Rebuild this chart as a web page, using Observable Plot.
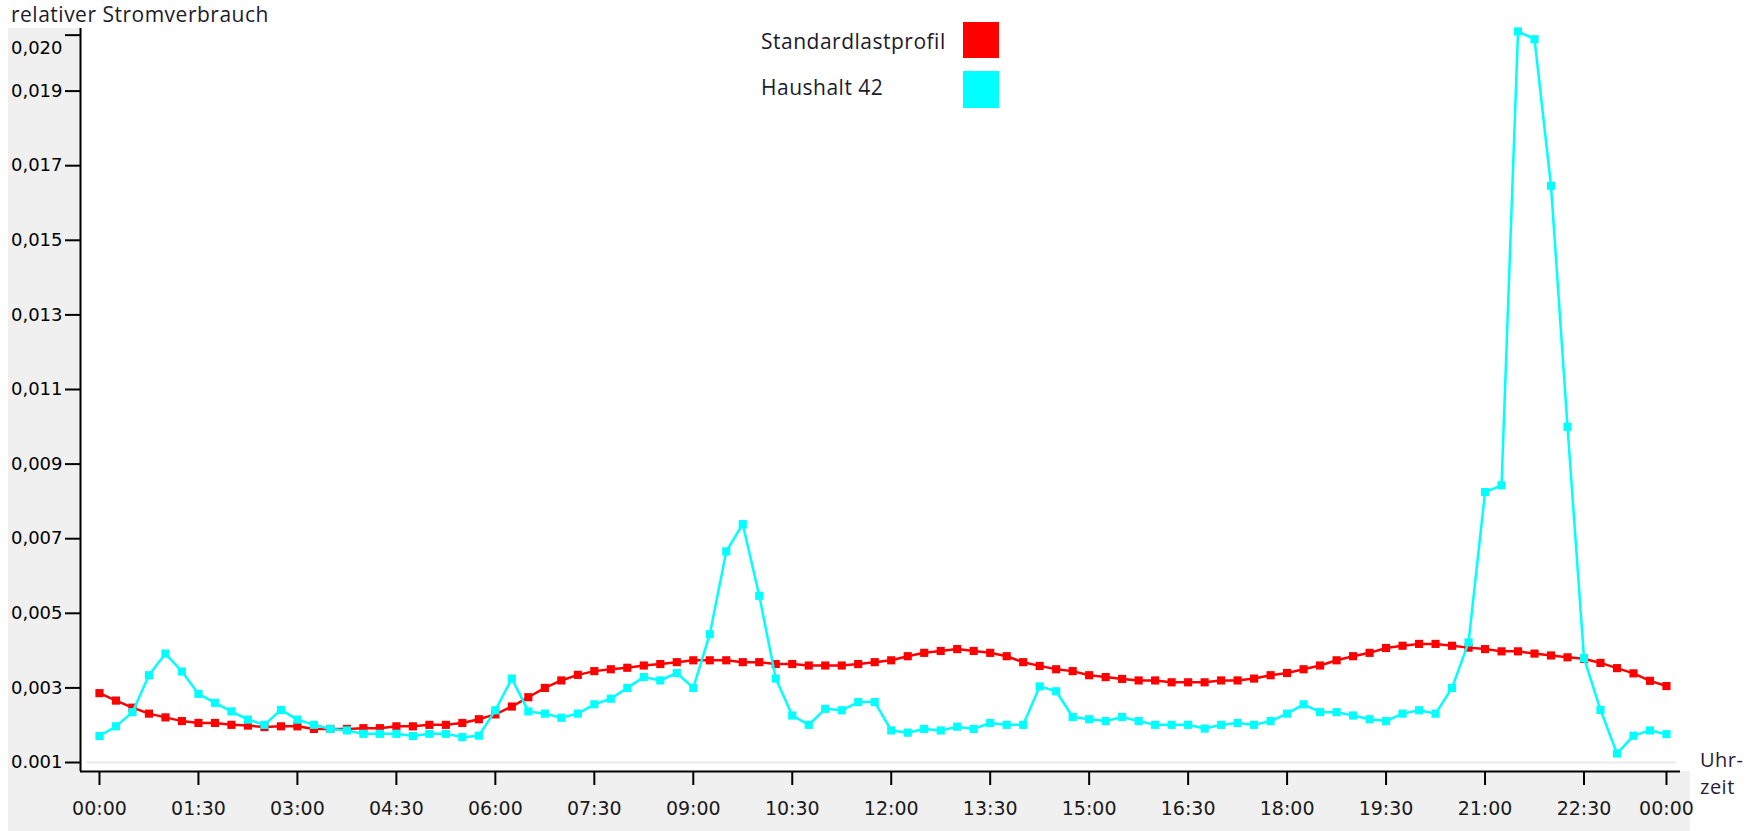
<!DOCTYPE html>
<html>
<head>
<meta charset="utf-8">
<script src="https://cdn.jsdelivr.net/npm/d3@7"></script>
<script src="https://cdn.jsdelivr.net/npm/@observablehq/plot@0.6"></script>
<style>
html, body { margin: 0; padding: 0; background: #fff; }
#wrap { position: relative; width: 1760px; height: 831px; overflow: hidden; font-family: "Open Sans", sans-serif; }
.panel { position: absolute; background: #f0f0f0; }
#chart { position: absolute; left: 0; top: 28px; }
.lbl { position: absolute; white-space: nowrap; color: #1c1c2c; font-size: 21px; line-height: 21px; letter-spacing: 0.5px; }
.sw { position: absolute; width: 36px; height: 36px; }
</style>
</head>
<body>
<div id="wrap">
  <div class="panel" style="left:8px;top:28px;width:74px;height:803px;"></div>
  <div class="panel" style="left:8px;top:771px;width:1682px;height:60px;"></div>
  <div id="chart"></div>
  <div class="lbl" id="title" style="left:11px;top:4px;"></div>
  <div class="lbl" id="leg1" style="left:761px;top:31px;"></div>
  <div class="sw" id="sw1" style="left:963px;top:22px;"></div>
  <div class="lbl" id="leg2" style="left:761px;top:77px;"></div>
  <div class="sw" id="sw2" style="left:963px;top:71px;height:37px;"></div>
  <div class="lbl" id="xlab" style="left:1700px;top:746px;line-height:27px;font-size:20px;color:#2a1a3a;"></div>
</div>
<script>
// ---- data (relative consumption per quarter hour, 00:00 ... 23:45) ----
const yTitle = "relativer Stromverbrauch";
const xTitle = ["Uhr-", "zeit"];
const seriesNames = ["Standardlastprofil", "Haushalt 42"];
const seriesColors = ["#ff0000", "#00ffff"];

const standardlastprofil = [
  0.00286,0.00266,0.00247,0.00231,0.00221,0.00211,0.00206,0.00206,0.00201,0.00199,
  0.00195,0.00197,0.00197,0.00190,0.00190,0.00190,0.00192,0.00192,0.00197,0.00197,
  0.00201,0.00201,0.00206,0.00216,0.00229,0.00250,0.00275,0.00300,0.00320,0.00335,
  0.00345,0.00350,0.00354,0.00360,0.00364,0.00369,0.00374,0.00374,0.00374,0.00369,
  0.00369,0.00364,0.00364,0.00360,0.00360,0.00360,0.00364,0.00369,0.00374,0.00385,
  0.00394,0.00399,0.00404,0.00399,0.00394,0.00385,0.00369,0.00359,0.00350,0.00345,
  0.00334,0.00329,0.00324,0.00320,0.00320,0.00315,0.00315,0.00315,0.00320,0.00320,
  0.00325,0.00334,0.00340,0.00350,0.00360,0.00374,0.00385,0.00394,0.00407,0.00413,
  0.00418,0.00418,0.00413,0.00408,0.00404,0.00398,0.00398,0.00392,0.00387,0.00382,
  0.00378,0.00367,0.00353,0.00339,0.00319,0.00305
];
const haushalt42 = [
  0.00171,0.00197,0.00235,0.00334,0.00392,0.00344,0.00284,0.00260,0.00237,0.00215,
  0.00201,0.00241,0.00215,0.00201,0.00190,0.00186,0.00177,0.00177,0.00177,0.00171,
  0.00177,0.00177,0.00168,0.00172,0.00240,0.00325,0.00237,0.00231,0.00220,0.00231,
  0.00256,0.00271,0.00300,0.00329,0.00320,0.00340,0.00300,0.00444,0.00666,0.00739,
  0.00547,0.00325,0.00226,0.00201,0.00244,0.00240,0.00262,0.00262,0.00186,0.00180,
  0.00190,0.00186,0.00196,0.00190,0.00206,0.00201,0.00201,0.00304,0.00291,0.00222,
  0.00216,0.00211,0.00222,0.00211,0.00201,0.00201,0.00201,0.00191,0.00201,0.00206,
  0.00201,0.00211,0.00231,0.00256,0.00235,0.00235,0.00226,0.00216,0.00211,0.00231,
  0.00240,0.00231,0.00300,0.00422,0.00825,0.00843,0.02060,0.02039,0.01646,0.01000,
  0.00380,0.00241,0.00124,0.00172,0.00186,0.00176
];

const xTickIdx = [0,6,12,18,24,30,36,42,48,54,60,66,72,78,84,90,95];
const xTickLabels = ["00:00","01:30","03:00","04:30","06:00","07:30","09:00","10:30","12:00",
                     "13:30","15:00","16:30","18:00","19:30","21:00","22:30","00:00"];
const yTicks = [0.001,0.003,0.005,0.007,0.009,0.011,0.013,0.015,0.017,0.019,0.0205];

// ---- build ----
const slots = d3.range(standardlastprofil.length);
const rowsA = slots.map(i => ({i, v: standardlastprofil[i]}));
const rowsB = slots.map(i => ({i, v: haushalt42[i]}));
const labelByIdx = new Map(xTickIdx.map((d, k) => [d, xTickLabels[k]]));
const xDomain = [-1.15, 95.85];
const yDomain = [0.000759, 0.020678];
const yTop = yTicks[yTicks.length - 1];
const yFmt = d => {
  const s = (Math.floor(d * 1000 + 1e-9) / 1000).toFixed(3);
  return d === yTicks[0] ? s : s.replace(".", ",");
};
const yAxisText = {fill: "#000", fontSize: 18, fontFamily: "DejaVu Sans", label: null};

const chart = Plot.plot({
  width: 1760,
  height: 803,
  marginLeft: 80,
  marginRight: 80,
  marginTop: 0,
  marginBottom: 60,
  style: {background: "transparent", color: "#000", fontFamily: "DejaVu Sans", overflow: "visible"},
  x: {type: "linear", domain: xDomain},
  y: {type: "linear", domain: yDomain},
  marks: [
    Plot.ruleY([yTicks[0]], {stroke: "#ececec", strokeWidth: 2, insetLeft: 6, insetRight: 4}),
    Plot.line(rowsA, {x: "i", y: "v", stroke: seriesColors[0], strokeWidth: 2.5}),
    Plot.dot(rowsA, {x: "i", y: "v", symbol: "square", r: 4.6, fill: seriesColors[0]}),
    Plot.line(rowsB, {x: "i", y: "v", stroke: seriesColors[1], strokeWidth: 2.5}),
    Plot.dot(rowsB, {x: "i", y: "v", symbol: "square", r: 4.6, fill: seriesColors[1]}),
    Plot.ruleY([yDomain[0]], {stroke: "#000", strokeWidth: 2}),
    Plot.ruleX([xDomain[0]], {stroke: "#000", strokeWidth: 2}),
    Plot.axisY({...yAxisText, ticks: yTicks, tickFormat: d => (d === yTop ? "" : yFmt(d)),
                tickSize: 15, tickPadding: 3, stroke: "#000", strokeWidth: 2}),
    Plot.axisY({...yAxisText, ticks: [yTop], tickFormat: yFmt, tickSize: 0, tickPadding: 18, dy: 13}),
    Plot.axisX({ticks: xTickIdx, tickFormat: d => labelByIdx.get(d), tickSize: 14, tickPadding: 16, label: null,
                stroke: "#000", strokeWidth: 2, fill: "#1a1a1a", fontSize: 19, fontFamily: "DejaVu Sans"})
  ]
});
document.getElementById("chart").appendChild(chart);

document.getElementById("title").textContent = yTitle;
document.getElementById("leg1").textContent = seriesNames[0];
document.getElementById("leg2").textContent = seriesNames[1];
document.getElementById("sw1").style.background = seriesColors[0];
document.getElementById("sw2").style.background = seriesColors[1];
document.getElementById("xlab").innerHTML = xTitle.join("<br>");
</script>
</body>
</html>
